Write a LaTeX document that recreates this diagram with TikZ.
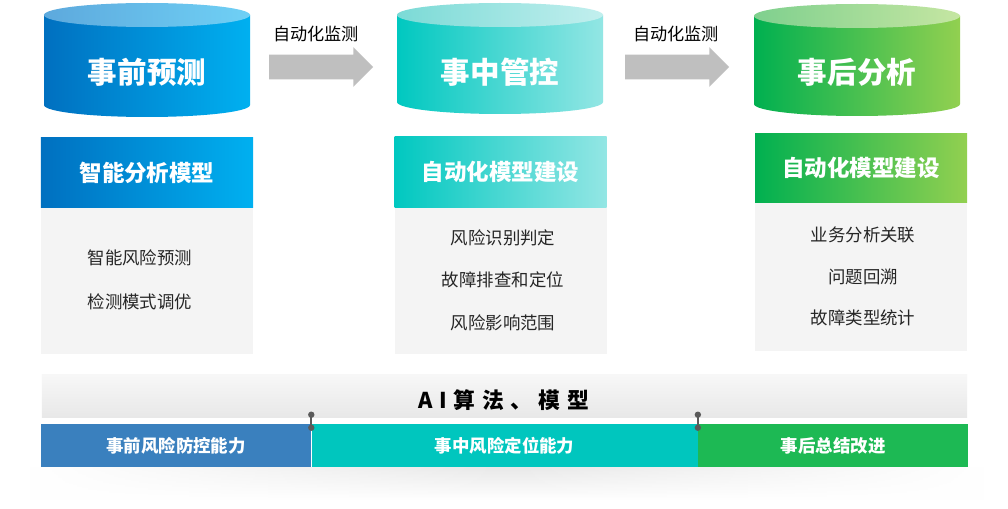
\documentclass[tikz,border=0pt]{standalone}
\usepackage{fontspec}
\setmainfont{Noto Sans CJK SC}
\usetikzlibrary{positioning,shapes.arrows,calc,fadings}

\definecolor{blueA}{HTML}{0070C0}
\definecolor{blueB}{HTML}{00B0F0}
\definecolor{blueTopA}{HTML}{5DA9DD}
\definecolor{blueTopB}{HTML}{6FD0F5}
\definecolor{tealA}{HTML}{00C8C0}
\definecolor{tealB}{HTML}{93E6E4}
\definecolor{tealTopA}{HTML}{7BDAD6}
\definecolor{tealTopB}{HTML}{C2EFEE}
\definecolor{greenA}{HTML}{00B050}
\definecolor{greenB}{HTML}{92D050}
\definecolor{greenTopA}{HTML}{7FD08E}
\definecolor{greenTopB}{HTML}{C5E6A2}
\definecolor{panelgray}{HTML}{F4F4F4}
\definecolor{arrowgray}{HTML}{BFBFBF}
\definecolor{barblue}{HTML}{3A80BE}
\definecolor{barteal}{HTML}{00C6BE}
\definecolor{bargreen}{HTML}{1DB954}
\definecolor{pingray}{HTML}{5A5A5A}

\tikzfading[name=fadesides, left color=transparent!100, right color=transparent!100, middle color=transparent!0]

\tikzset{
  cyltitle/.style={text=white, font=\fontsize{21}{21}\selectfont\bfseries},
  flowarrow/.style={single arrow, fill=arrowgray, minimum height=26mm, inner xsep=0pt, inner ysep=3mm,
    single arrow head extend=1.875mm, single arrow tip angle=90},
  flowlabel/.style={font=\fontsize{12.2}{12}\selectfont},
  header/.style={minimum width=53mm, inner sep=0pt, text=white, font=\fontsize{16}{16}\selectfont\bfseries},
  panel/.style={fill=panelgray, minimum width=53mm, inner sep=0pt},
  item/.style={font=\fontsize{12.4}{12}\selectfont, text=black!85},
  segment/.style={minimum height=10.75mm, inner sep=0pt, text=white, font=\fontsize{12.4}{12}\selectfont\bfseries},
  pin/.style={draw=pingray, line width=0.5mm}
}

\begin{document}
\begin{tikzpicture}[x=0.25mm, y=-0.25mm]
        \useasboundingbox (0,0) rectangle (1008,509);
        \fill[white] (0,0) rectangle (1008,509);

        % Cilindros
        \shade[left color=blueA, right color=blueB] (44,15) -- (44,105)
            arc[start angle=180, end angle=360, x radius=25.75mm, y radius=3mm] -- (250,15) -- cycle;
        \shade[left color=blueTopA, right color=blueTopB] (147,15) ellipse[x radius=25.75mm, y radius=3mm];
        \node[cyltitle] (pre) at (147,72) {事前预测};

        \shade[left color=tealA, right color=tealB] (397,15) -- (397,102)
            arc[start angle=180, end angle=360, x radius=25.75mm, y radius=3mm] -- (603,15) -- cycle;
        \shade[left color=tealTopA, right color=tealTopB] (500,15) ellipse[x radius=25.75mm, y radius=3mm];
        \node[cyltitle] (mid) at (500,72) {事中管控};

        \shade[left color=greenA, right color=greenB] (754,16) -- (754,104)
            arc[start angle=180, end angle=360, x radius=25.75mm, y radius=3mm] -- (960,16) -- cycle;
        \shade[left color=greenTopA, right color=greenTopB] (857,16) ellipse[x radius=25.75mm, y radius=3mm];
        \node[cyltitle] (post) at (857,72) {事后分析};

        % Setas
        \node[flowarrow] (arrA) at (315,67) {};
        \node[flowlabel] (lblA) at (316,34) {自动化监测};
        \node[flowarrow] (arrB) at (671,67) {};
        \node[flowlabel] (lblB) at (676,34) {自动化监测};

        % Paineis
        \node[header, minimum height=17.25mm, left color=blueA, right color=blueB] (hdPre) at (147,172.5) {智能分析模型};
        \node[panel, minimum height=36.5mm, below=0pt of hdPre] (bdPre) {};
        \node[item] (itPreA) at (140,258) {智能风险预测};
        \node[item] (itPreB) at (140,302) {检测模式调优};

        \node[header, minimum height=17.5mm, left color=tealA, right color=tealB] (hdMid) at (500.5,172) {自动化模型建设};
        \node[panel, minimum height=36.5mm, below=0pt of hdMid] (bdMid) {};
        \node[item] (itMidA) at (503,238) {风险识别判定};
        \node[item] (itMidB) at (503,280) {故障排查和定位};
        \node[item] (itMidC) at (503,323) {风险影响范围};

        \node[header, minimum height=17mm, left color=greenA, right color=greenB] (hdPost) at (861,168) {自动化模型建设};
        \node[panel, minimum height=37mm, below=0pt of hdPost] (bdPost) {};
        \node[item] (itPostA) at (863,235) {业务分析关联};
        \node[item] (itPostB) at (863,277) {问题回溯};
        \node[item] (itPostC) at (863,318) {故障类型统计};

        % Base
        \shade[top color=black!9, bottom color=white, path fading=fadesides] (30,467) rectangle (985,500);
        \node[minimum width=231.25mm, minimum height=10.75mm, inner sep=0pt,
              top color=black!3, bottom color=black!9] (ai) at (504.5,395.5) {};
        \node[font=\fontsize{15.5}{16}\selectfont\bfseries] (aiText) at (504,400)
              {\addfontfeatures{LetterSpace=30}AI算法、模型};

        \node[segment, fill=barblue, minimum width=67.5mm] (segA) at (176,445.5) {事前风险防控能力};
        \node[segment, fill=barteal, minimum width=96.5mm, right=0pt of segA] (segB) {事中风险定位能力};
        \node[segment, fill=bargreen, minimum width=67.5mm, right=0pt of segB] (segC) {事后总结改进};

        % Marcadores
        \coordinate (pinAtop) at ($(segA.north east)+(0,-9)$);
        \coordinate (pinAbot) at ($(segA.north east)+(0,4)$);
        \draw[pin] (pinAtop) -- (pinAbot);
        \fill[pingray] (pinAtop) circle[radius=0.8mm] (pinAbot) circle[radius=0.8mm];
        \coordinate (pinBtop) at ($(segB.north east)+(0,-9)$);
        \coordinate (pinBbot) at ($(segB.north east)+(0,4)$);
        \draw[pin] (pinBtop) -- (pinBbot);
        \fill[pingray] (pinBtop) circle[radius=0.8mm] (pinBbot) circle[radius=0.8mm];
    \end{tikzpicture}
\end{document}
